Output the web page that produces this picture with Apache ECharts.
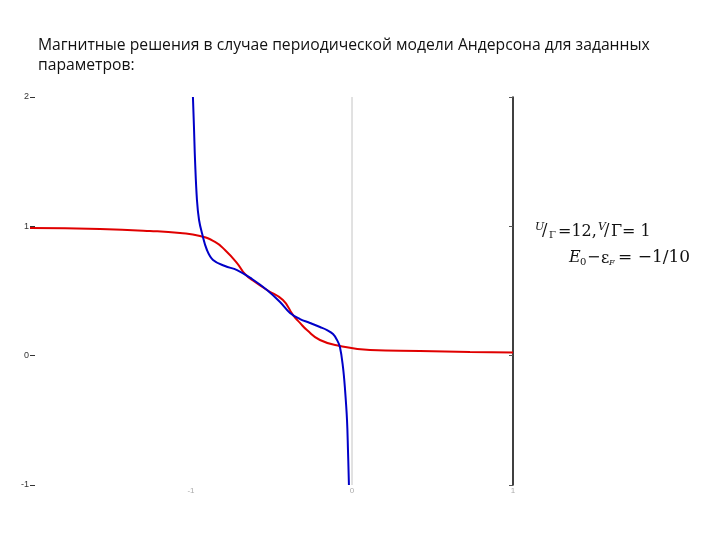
<!DOCTYPE html>
<html>
<head>
<meta charset="utf-8">
<script src="https://cdn.jsdelivr.net/npm/echarts@6/dist/echarts.min.js"></script>
<style>
html,body{margin:0;padding:0;background:#fff;}
#c{width:720px;height:540px;}
</style>
</head>
<body>
<div id="c"></div>
<script>
// Data
var titleLines = ['Магнитные решения в случае периодической модели Андерсона для заданных', 'параметров:'];
var yTicks = [-1, 0, 1, 2];
var xTicks = [-1, 0, 1];
var redX = [-2.000, -1.565, -1.255, -1.068, -0.944, -0.851, -0.789, -0.714, -0.665, -0.602, -0.528, -0.429, -0.366, -0.323, -0.280, -0.199, -0.075, 0.112, 0.422, 0.733, 1.000];
var redY = [0.987, 0.979, 0.964, 0.948, 0.925, 0.879, 0.817, 0.716, 0.631, 0.570, 0.508, 0.430, 0.314, 0.253, 0.198, 0.121, 0.075, 0.044, 0.036, 0.029, 0.025];
var blueX = [-0.988, -0.981, -0.975, -0.963, -0.950, -0.932, -0.901, -0.863, -0.789, -0.714, -0.621, -0.528, -0.447, -0.385, -0.323, -0.261, -0.199, -0.155, -0.118, -0.093, -0.075, -0.056, -0.043, -0.031, -0.025, -0.019];
var blueY = [2.0, 1.745, 1.513, 1.204, 1.049, 0.948, 0.817, 0.740, 0.693, 0.662, 0.593, 0.508, 0.415, 0.330, 0.283, 0.253, 0.222, 0.198, 0.167, 0.121, 0.067, -0.088, -0.266, -0.497, -0.729, -1.0];
var zeroLineX = [0, 0];
var zeroLineY = [-1, 2];

function zip(a, b) { return a.map(function (v, i) { return [v, b[i]]; }); }

var chart = echarts.init(document.getElementById('c'), null, {renderer: 'canvas'});
var serif = '"DejaVu Serif", "Liberation Serif", serif';
var ink = '#111';

// formula pieces: [text, left x, center y, size, italic]
var formula = [
  ['U', 535, 227, 11, true], ['/', 542, 231, 16, false], ['Γ', 549, 235, 10, false],
  ['=12,', 558, 232, 16, false],
  ['V', 598, 227, 11, true], ['/', 604, 231, 16, false], ['Γ= 1', 611, 232, 16, false],
  ['E', 569, 258, 16, true], ['0', 580, 262, 10, false], ['−', 587, 258, 16, false],
  ['ε', 601, 259, 16, false], ['F', 609, 263, 8, true],
  ['= −1/10', 618, 258, 17, false]
];
var graphics = [
  {type: 'text', left: 38, top: 38, style: {text: titleLines[0], font: '15.7px "Open Sans", "Noto Sans", sans-serif', fill: ink}},
  {type: 'text', left: 38, top: 58, style: {text: titleLines[1], font: '15.7px "Open Sans", "Noto Sans", sans-serif', fill: ink}}
];
formula.forEach(function (f) {
  graphics.push({type: 'text', x: f[1], y: f[2], style: {
    text: f[0], font: (f[4] ? 'italic ' : '') + f[3] + 'px ' + serif,
    fill: ink, textVerticalAlign: 'middle', verticalAlign: 'middle'
  }});
});

chart.setOption({
  backgroundColor: '#fff',
  animation: false,
  grid: {left: 30, right: 207, top: 97, bottom: 55},
  xAxis: {
    type: 'value', min: -2, max: 1, interval: 1,
    axisLine: {show: false, onZero: false}, splitLine: {show: false},
    axisTick: {show: false},
    axisLabel: {
      fontSize: 8, color: '#aaa', margin: 2,
      formatter: function (v) { return xTicks.indexOf(v) >= 0 ? String(v) : ''; }
    }
  },
  yAxis: [{
    type: 'value', min: -1, max: 2, interval: 1,
    axisLine: {show: false, onZero: false}, splitLine: {show: false},
    axisTick: {show: true, inside: true, length: 5, lineStyle: {color: '#333'}},
    axisLabel: {fontSize: 9, color: '#333', margin: 1, fontFamily: 'Liberation Sans',
      formatter: function (v) { return yTicks.indexOf(v) >= 0 ? String(v) : ''; }}
  }, {
    type: 'value', min: -1, max: 2, interval: 1, position: 'right',
    axisLine: {show: true, onZero: false, lineStyle: {color: '#000', width: 1.5}},
    splitLine: {show: false},
    axisTick: {show: true, inside: true, length: 4, lineStyle: {color: '#555'}},
    axisLabel: {show: false}
  }],
  series: [{
    type: 'line', data: zip(zeroLineX, zeroLineY), symbol: 'none',
    lineStyle: {color: '#c4c4c4', width: 1}, silent: true, z: 1
  }, {
    type: 'line', data: zip(redX, redY), symbol: 'none', smooth: 0.5,
    lineStyle: {color: '#e00000', width: 2}, z: 2
  }, {
    type: 'line', data: zip(blueX, blueY), symbol: 'none', smooth: 0.4,
    lineStyle: {color: '#0000c8', width: 2}, z: 3
  }],
  graphic: graphics
});
</script>
</body>
</html>
